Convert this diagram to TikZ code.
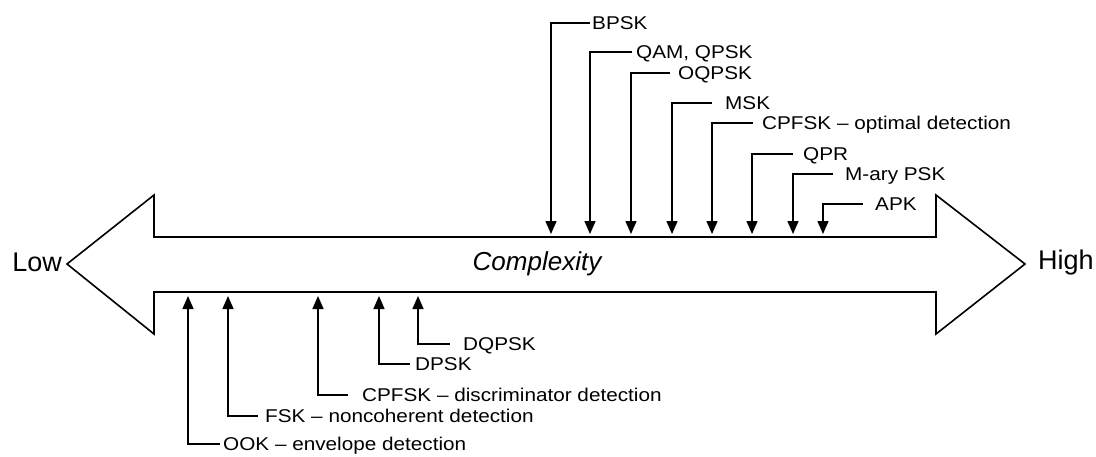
\documentclass[tikz,border=0pt]{standalone}
\usepackage{fontspec}
\setmainfont{Liberation Sans}
\newfontfamily\lblfont{Liberation Sans}[FakeStretch=1.12]
\usetikzlibrary{arrows.meta}

\begin{document}
\begin{tikzpicture}[x=1pt,y=-1pt,
  band/.style={draw=black,line width=1.6pt,line join=miter,fill=white},
  conn/.style={draw=black,line width=1.5pt,-{Triangle[length=13pt,width=11pt]}},
  lbl/.style={anchor=west,inner ysep=0pt,text height=13.3pt,text depth=0pt,
    font=\lblfont\fontsize{18.5}{20}\selectfont},
  endword/.style={inner sep=0pt,font=\fontsize{27}{30}\selectfont},
]
\useasboundingbox (0,0) rectangle (1096,456);

% double-headed complexity scale
\draw[band] (67,264) -- (154,195) -- (154,237) -- (936,237) -- (936,195)
  -- (1025,264) -- (936,334) -- (936,292) -- (154,292) -- (154,334) -- cycle;

\node[endword,anchor=base east] (low) at (62,271) {Low};
\node[endword,anchor=base west] (high) at (1038,269) {High};
\node[inner sep=0pt,anchor=base,font=\itshape\fontsize{26}{30}\selectfont]
  (cx) at (537,270) {Complexity};

% points just above the upper edge of the scale
\coordinate (u1) at (551,234);
\coordinate (u2) at (590,234);
\coordinate (u3) at (631,234);
\coordinate (u4) at (672,234);
\coordinate (u5) at (712,234);
\coordinate (u6) at (752,234);
\coordinate (u7) at (793,234);
\coordinate (u8) at (823,234);

% points just below the lower edge of the scale
\coordinate (d1) at (188,296);
\coordinate (d2) at (228,296);
\coordinate (d3) at (318,296);
\coordinate (d4) at (379,296);
\coordinate (d5) at (418,296);

% schemes above the scale
\node[lbl,inner xsep=2pt]  (bpsk)  at (590,23)  {BPSK};
\node[lbl,inner xsep=4pt]  (qam)   at (632,52)  {QAM, QPSK};
\node[lbl,inner xsep=8pt]  (oqpsk) at (670,73)  {OQPSK};
\node[lbl,inner xsep=13pt] (msk)   at (712,103) {MSK};
\node[lbl,inner xsep=9pt]  (cpopt) at (753,123) {CPFSK – optimal detection};
\node[lbl,inner xsep=10pt] (qpr)   at (793,154) {QPR};
\node[lbl,inner xsep=12pt] (mary)  at (833,174) {M-ary PSK};
\node[lbl,inner xsep=12pt] (apk)   at (863,204) {APK};

\draw[conn] (bpsk.west)  -| (u1);
\draw[conn] (qam.west)   -| (u2);
\draw[conn] (oqpsk.west) -| (u3);
\draw[conn] (msk.west)   -| (u4);
\draw[conn] (cpopt.west) -| (u5);
\draw[conn] (qpr.west)   -| (u6);
\draw[conn] (mary.west)  -| (u7);
\draw[conn] (apk.west)   -| (u8);

% schemes below the scale
\node[lbl,inner xsep=3pt]  (ook)   at (220,444) {OOK – envelope detection};
\node[lbl,inner xsep=7pt]  (fsk)   at (258,416) {FSK – noncoherent detection};
\node[lbl,inner xsep=14pt] (cpdis) at (348,395) {CPFSK – discriminator detection};
\node[lbl,inner xsep=5pt]  (dpsk)  at (410,364) {DPSK};
\node[lbl,inner xsep=13pt] (dqpsk) at (450,344) {DQPSK};

\draw[conn] (ook.west)   -| (d1);
\draw[conn] (fsk.west)   -| (d2);
\draw[conn] (cpdis.west) -| (d3);
\draw[conn] (dpsk.west)  -| (d4);
\draw[conn] (dqpsk.west) -| (d5);
\end{tikzpicture}
\end{document}
